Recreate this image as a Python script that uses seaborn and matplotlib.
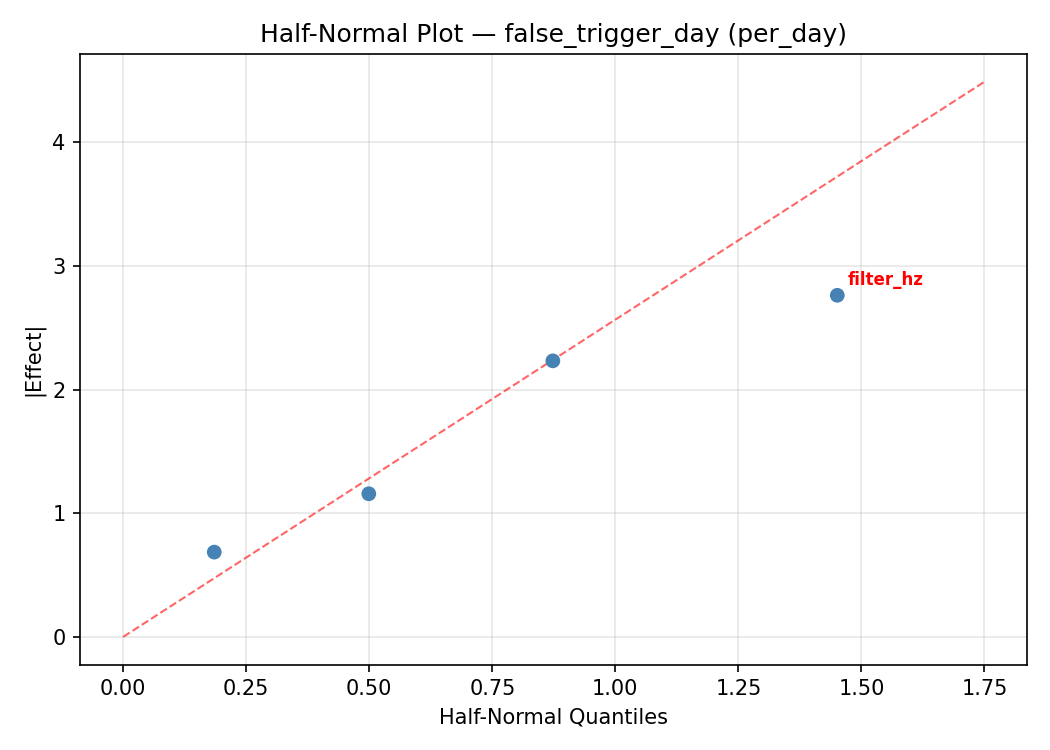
import numpy as np
import pandas as pd
import seaborn as sns
import matplotlib
matplotlib.use('Agg')
import matplotlib.pyplot as plt

## Values
factors = ['f1', 'f2', 'f3', 'filter_hz']
quantiles = [0.185, 0.499, 0.873, 1.451]
effects = [0.685, 1.157, 2.232, 2.762]
ref_x = [0.0, 1.75]
ref_y = [0.0, 4.489]
labelled = ['filter_hz']

df = pd.DataFrame({'factor': factors, 'quantile': quantiles, 'effect': effects})

fig, ax = plt.subplots(figsize=(7, 5), dpi=150)
sns.scatterplot(data=df, x='quantile', y='effect', ax=ax, color='steelblue',
                s=50, edgecolor='none', zorder=3)
ax.plot(ref_x, ref_y, color='red', linestyle='--', alpha=0.6, linewidth=1)

for _, row in df[df['factor'].isin(labelled)].iterrows():
    ax.annotate(row['factor'], (row['quantile'], row['effect']),
                xytext=(5, 5), textcoords='offset points',
                color='red', fontsize=8, fontweight='bold')

ax.set_xlabel('Half-Normal Quantiles')
ax.set_ylabel('|Effect|')
ax.set_title('Half-Normal Plot \u2014 false_trigger_day (per_day)')
ax.grid(True, alpha=0.3)
plt.tight_layout()
plt.savefig('out.png', dpi=150)
